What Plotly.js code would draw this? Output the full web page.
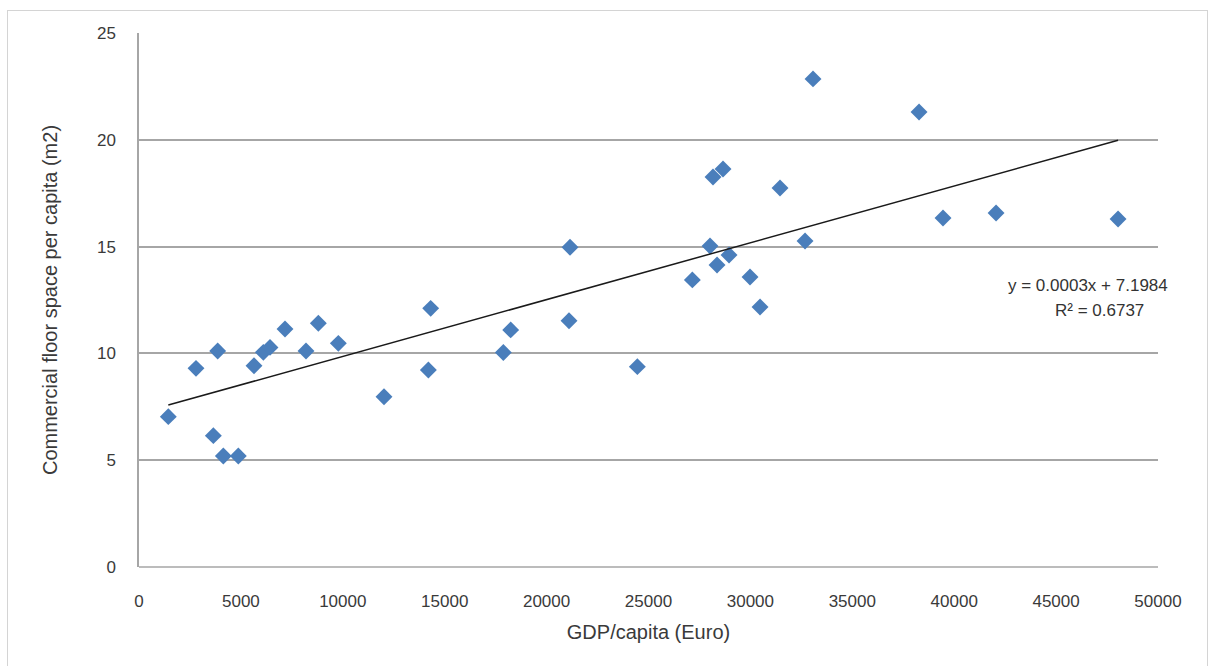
<!DOCTYPE html>
<html>
<head>
<meta charset="utf-8">
<script src="https://cdn.plot.ly/plotly-3.0.1.min.js"></script>
<style>
html,body{margin:0;padding:0;background:#fff;}
#wrap{position:relative;width:1209px;height:666px;overflow:hidden;}
#chart{position:absolute;left:0;top:0;width:1209px;height:666px;}
#frame{position:absolute;left:7px;top:10px;width:1199px;height:700px;border:1px solid #d4d4d4;pointer-events:none;}
</style>
</head>
<body>
<div id="wrap"><div id="chart"></div><div id="frame"></div></div>
<script>
// GDP per capita (Euro)
const gdpPerCapita = [1438, 2797, 3648, 3861, 4138, 4873, 5643, 6101, 6428, 7164, 8195, 8800, 9781, 12022,
  14198, 14312, 17878, 18238, 21100, 21149, 24453, 27151, 28019, 28363, 28952, 28166, 28657, 29982, 30473,
  31454, 32681, 33073, 38275, 39452, 42054, 48040];
// Commercial floor space per capita (m2)
const floorSpace = [7.04, 9.30, 6.15, 10.11, 5.20, 5.20, 9.42, 10.05, 10.28, 11.14, 10.11, 11.41, 10.47, 7.97,
  9.22, 12.11, 10.04, 11.10, 11.53, 14.97, 9.38, 13.44, 15.03, 14.14, 14.61, 18.26, 18.63, 13.58, 12.17,
  17.74, 15.26, 22.85, 21.30, 16.34, 16.57, 16.29];
// Linear trendline parameters
const trendSlope = 0.000266;
const trendIntercept = 7.1984;
const equationText = "y = 0.0003x + 7.1984";
const r2Text = "R² = 0.6737";
const xTicks = [0, 5000, 10000, 15000, 20000, 25000, 30000, 35000, 40000, 45000, 50000];
const yTicks = [0, 5, 10, 15, 20, 25];

const xMin = Math.min(...gdpPerCapita), xMax = Math.max(...gdpPerCapita);
const trendX = [xMin, xMax];
const trendY = trendX.map(x => trendIntercept + trendSlope * x);

const font = "Liberation Sans, Arial, sans-serif";
const textColor = '#3a3a3a';

const data = [
  {
    x: gdpPerCapita, y: floorSpace, type: 'scatter', mode: 'markers',
    marker: {symbol: 'diamond', size: 13, color: '#4a7ebb', line: {width: 0}},
    showlegend: false, hoverinfo: 'x+y'
  },
  {
    x: trendX, y: trendY, type: 'scatter', mode: 'lines',
    line: {color: '#1a1a1a', width: 1.5}, showlegend: false, hoverinfo: 'skip'
  }
];

const layout = {
  width: 1209, height: 666,
  margin: {l: 139, r: 51, t: 33, b: 99},
  paper_bgcolor: '#ffffff', plot_bgcolor: '#ffffff',
  font: {family: font, size: 17, color: textColor},
  xaxis: {
    range: [0, 50000], tickvals: xTicks, ticktext: xTicks.map(String),
    showgrid: false, zeroline: false, showline: false,
    ticks: '', tickfont: {size: 17, color: textColor}, ticklabelstandoff: 22,
    title: {text: 'GDP/capita (Euro)', font: {size: 20, color: textColor}, standoff: 14}
  },
  yaxis: {
    range: [0, 25], tickvals: yTicks, ticktext: yTicks.map(String),
    showgrid: true, gridcolor: '#a6a6a6', gridwidth: 1.5, zeroline: false,
    showline: true, linecolor: '#a6a6a6', linewidth: 1.5,
    ticks: '', tickfont: {size: 17, color: textColor}, ticklabelstandoff: 18,
    title: {text: 'Commercial floor space per capita (m2)', font: {size: 20, color: textColor}, standoff: 34}
  },
  shapes: [
    {type: 'line', xref: 'paper', yref: 'paper', x0: 0, x1: 1, y0: 0, y1: 0,
     line: {color: '#a6a6a6', width: 1.5}}
  ],
  annotations: [
    {xref: 'paper', yref: 'y', x: 1.012, y: 13.2, xanchor: 'right', yanchor: 'middle',
     text: equationText, showarrow: false, font: {size: 17, color: '#333333'}},
    {xref: 'paper', yref: 'y', x: 0.943, y: 12.0, xanchor: 'center', yanchor: 'middle',
     text: r2Text, showarrow: false, font: {size: 17, color: '#333333'}}
  ]
};

Plotly.newPlot('chart', data, layout, {displayModeBar: false, responsive: false});
</script>
</body>
</html>
